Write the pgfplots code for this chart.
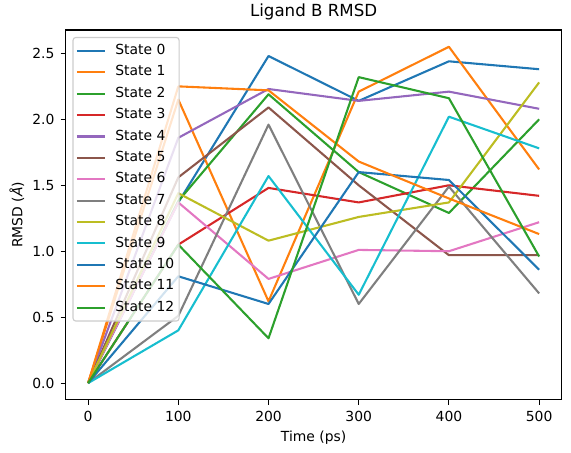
\documentclass[border=0pt]{standalone}
\usepackage{pgfplots}
\pgfplotsset{compat=1.18}
\usepackage{fontspec}
\setmainfont{DejaVu Sans}
\definecolor{C0}{RGB}{31,119,180}
\definecolor{C1}{RGB}{255,127,14}
\definecolor{C2}{RGB}{44,160,44}
\definecolor{C3}{RGB}{214,39,40}
\definecolor{C4}{RGB}{148,103,189}
\definecolor{C5}{RGB}{140,86,75}
\definecolor{C6}{RGB}{227,119,194}
\definecolor{C7}{RGB}{127,127,127}
\definecolor{C8}{RGB}{188,189,34}
\definecolor{C9}{RGB}{23,190,207}
\begin{document}
\begin{tikzpicture}
\path[use as bounding box] (-47.2pt,-38.2pt) rectangle (364.0pt,288.0pt);
\begin{axis}[
  at={(0pt,0pt)}, anchor=south west,
  scale only axis, width=357.3pt, height=266.4pt,
  xmin=-25, xmax=525, ymin=-0.1275, ymax=2.6775,
  xtick={0,100,200,300,400,500},
  ytick={0,0.5,1,1.5,2,2.5},
  yticklabel style={/pgf/number format/fixed, /pgf/number format/fixed zerofill, /pgf/number format/precision=1, xshift=-1pt},
  /pgf/number format/assume math mode=true,
  tick align=outside, tick pos=left,
  major tick length=3.5pt,
  every tick/.style={black, line width=0.8pt},
  axis line style={line width=0.8pt},
  ticklabel style={font=\fontsize{10}{12}\selectfont},
  xticklabel style={yshift=-1pt},
  title={Ligand B RMSD},
  title style={font=\fontsize{12}{14}\selectfont, yshift=-2.6pt},
  xlabel={Time (ps)},
  ylabel={RMSD (\textit{Å})},
  ylabel style={xshift=0pt, yshift=-1pt},
  label style={font=\fontsize{10}{12}\selectfont},
  every axis plot/.append style={line width=1.5pt, line join=round},
  legend cell align=left,
  legend style={at={(0,1)}, anchor=north west, xshift=5pt, yshift=-5pt,
    draw={rgb,255:red,204;green,204;blue,204}, line width=0.8pt,
    fill=white, fill opacity=0.8, text opacity=1, rounded corners=2pt,
    font=\fontsize{10}{12}\selectfont, inner sep=2pt, row sep=0pt,
    nodes={text height=7.6pt, text depth=2.4pt, inner ysep=2.7pt, inner xsep=1.5pt}},
  legend image code/.code={\draw[line width=1.5pt] (0pt,0pt) -- (20pt,0pt); \path (25.5pt,0pt);},
]
\addplot[C0] coordinates {(0,0)(100,1.37)(200,2.48)(300,2.14)(400,2.44)(500,2.38)};
\addlegendentry{State 0\hspace{1.5pt}}
\addplot[C1] coordinates {(0,0)(100,2.15)(200,0.62)(300,2.21)(400,2.55)(500,1.62)};
\addlegendentry{State 1}
\addplot[C2] coordinates {(0,0)(100,1.38)(200,2.19)(300,1.60)(400,1.29)(500,2.00)};
\addlegendentry{State 2}
\addplot[C3] coordinates {(0,0)(100,1.05)(200,1.48)(300,1.37)(400,1.50)(500,1.42)};
\addlegendentry{State 3}
\addplot[C4] coordinates {(0,0)(100,1.86)(200,2.23)(300,2.14)(400,2.21)(500,2.08)};
\addlegendentry{State 4}
\addplot[C5] coordinates {(0,0)(100,1.56)(200,2.09)(300,1.50)(400,0.97)(500,0.97)};
\addlegendentry{State 5}
\addplot[C6] coordinates {(0,0)(100,1.37)(200,0.79)(300,1.01)(400,1.00)(500,1.22)};
\addlegendentry{State 6}
\addplot[C7] coordinates {(0,0)(100,0.51)(200,1.96)(300,0.60)(400,1.49)(500,0.68)};
\addlegendentry{State 7}
\addplot[C8] coordinates {(0,0)(100,1.44)(200,1.08)(300,1.26)(400,1.37)(500,2.28)};
\addlegendentry{State 8}
\addplot[C9] coordinates {(0,0)(100,0.40)(200,1.57)(300,0.67)(400,2.02)(500,1.78)};
\addlegendentry{State 9}
\addplot[C0] coordinates {(0,0)(100,0.81)(200,0.60)(300,1.60)(400,1.54)(500,0.86)};
\addlegendentry{State 10\hspace{1.5pt}}
\addplot[C1] coordinates {(0,0)(100,2.25)(200,2.22)(300,1.68)(400,1.40)(500,1.13)};
\addlegendentry{State 11}
\addplot[C2] coordinates {(0,0)(100,1.05)(200,0.34)(300,2.32)(400,2.16)(500,0.96)};
\addlegendentry{State 12}
\end{axis}
\end{tikzpicture}
\end{document}
